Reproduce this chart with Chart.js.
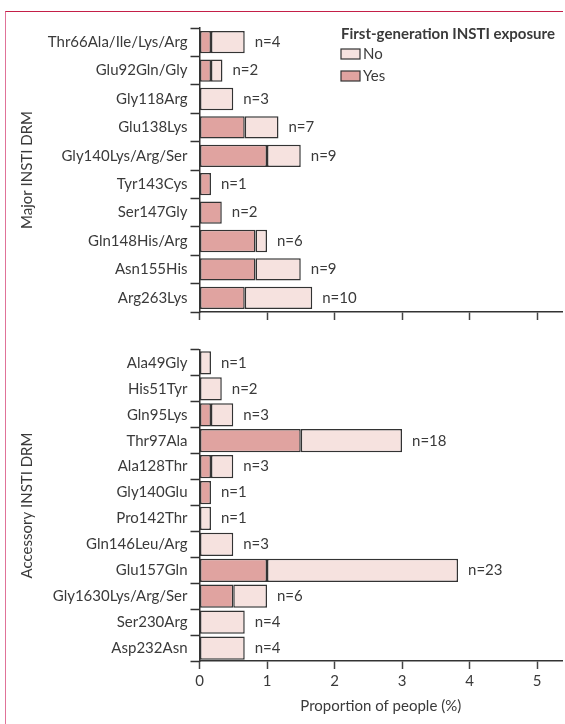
<!DOCTYPE html>
<html>
<head>
<meta charset="utf-8">
<script src="https://cdn.jsdelivr.net/npm/chart.js@4.4.1/dist/chart.umd.min.js"></script>
<style>
  html, body { margin: 0; padding: 0; background: #fff; }
  #frame {
    position: absolute; left: 5px; top: 11px; width: 558px; height: 713px;
    border-top: 1.5px solid #c41f48; border-left: 1.5px solid #e07398;
    box-sizing: border-box;
  }
  canvas { position: absolute; left: 0; }
  #major { top: 0; }
  #accessory { top: 330px; }
</style>
</head>
<body>
<div id="frame"></div>
<canvas id="major" width="565" height="330"></canvas>
<canvas id="accessory" width="565" height="394"></canvas>
<script>
// Major INSTI DRM (% of people), split by first-generation INSTI exposure
const majorLabels = ['Thr66Ala/Ile/Lys/Arg', 'Glu92Gln/Gly', 'Gly118Arg', 'Glu138Lys', 'Gly140Lys/Arg/Ser',
  'Tyr143Cys', 'Ser147Gly', 'Gln148His/Arg', 'Asn155His', 'Arg263Lys'];
const majorYes = [0.17, 0.17, 0, 0.67, 1.0, 0.17, 0.33, 0.83, 0.83, 0.67];
const majorNo = [0.5, 0.17, 0.5, 0.5, 0.5, 0, 0, 0.17, 0.67, 1.0];
const majorCounts = [4, 2, 3, 7, 9, 1, 2, 6, 9, 10];

// Accessory INSTI DRM
const accessoryLabels = ['Ala49Gly', 'His51Tyr', 'Gln95Lys', 'Thr97Ala', 'Ala128Thr', 'Gly140Glu', 'Pro142Thr',
  'Gln146Leu/Arg', 'Glu157Gln', 'Gly1630Lys/Arg/Ser', 'Ser230Arg', 'Asp232Asn'];
const accessoryYes = [0, 0, 0.17, 1.5, 0.17, 0.17, 0, 0, 1.0, 0.5, 0, 0];
const accessoryNo = [0.17, 0.33, 0.33, 1.5, 0.33, 0, 0.17, 0.5, 2.83, 0.5, 0.67, 0.67];
const accessoryCounts = [1, 2, 3, 18, 3, 1, 1, 3, 23, 6, 4, 4];

const xTicks = [0, 1, 2, 3, 4, 5];

const FONT = 'Lato';
const TEXT = '#3a3a3a';
const LINE = '#333333';
const YES_COLOR = '#e0a3a0';
const NO_COLOR = '#f6e2df';

Chart.defaults.color = TEXT;
Chart.defaults.font.family = FONT;
Chart.defaults.font.size = 15;

// "n=.." written just past the end of each stacked bar
const countLabels = {
  id: 'countLabels',
  afterDatasetsDraw(chart, args, opts) {
    const meta = chart.getDatasetMeta(chart.data.datasets.length - 1);
    const ctx = chart.ctx;
    ctx.save();
    ctx.font = `15px ${FONT}`;
    ctx.fillStyle = TEXT;
    ctx.textAlign = 'left';
    ctx.textBaseline = 'middle';
    meta.data.forEach((bar, i) => {
      ctx.fillText('n=' + opts.counts[i], bar.x + 10, bar.y);
    });
    ctx.restore();
  }
};

// legend block in the top right of the upper panel
const exposureLegend = {
  id: 'exposureLegend',
  afterDraw(chart, args, opts) {
    if (!opts.show) return;
    const ctx = chart.ctx;
    ctx.save();
    ctx.textBaseline = 'middle';
    ctx.textAlign = 'left';
    ctx.fillStyle = TEXT;
    ctx.font = `bold 15px ${FONT}`;
    ctx.fillText(opts.title, opts.x, opts.y);
    ctx.font = `15px ${FONT}`;
    const items = chart.data.datasets.slice().reverse();
    items.forEach((ds, i) => {
      const y = opts.y + 20 + i * 22;
      ctx.fillStyle = ds.backgroundColor;
      ctx.fillRect(opts.x, y - 5, 19, 10);
      ctx.strokeStyle = ds.borderColor;
      ctx.lineWidth = 1.2;
      ctx.strokeRect(opts.x, y - 5, 19, 10);
      ctx.fillStyle = TEXT;
      ctx.fillText(ds.label, opts.x + 22, y);
    });
    ctx.restore();
  }
};

function drawPanel(id, labels, yes, no, counts, cfg) {
  const ctx = document.getElementById(id).getContext('2d');
  return new Chart(ctx, {
    type: 'bar',
    data: {
      labels: labels,
      datasets: [
        { label: 'Yes', data: yes, backgroundColor: YES_COLOR, borderColor: LINE, borderWidth: 1.5,
          borderSkipped: false, barPercentage: cfg.barPct, categoryPercentage: 1 },
        { label: 'No', data: no, backgroundColor: NO_COLOR, borderColor: LINE, borderWidth: 1.5,
          borderSkipped: false, barPercentage: cfg.barPct, categoryPercentage: 1 }
      ]
    },
    plugins: [countLabels, exposureLegend],
    options: {
      indexAxis: 'y',
      responsive: false,
      animation: false,
      layout: { padding: { left: 14, right: 3, top: cfg.top, bottom: cfg.bottom } },
      scales: {
        x: {
          type: 'linear',
          stacked: true,
          min: 0,
          max: 5.37,
          afterBuildTicks: (scale) => { scale.ticks = xTicks.map(v => ({ value: v })); },
          afterFit: (scale) => { scale.height = cfg.xHeight; },
          grid: { drawOnChartArea: false, drawTicks: true, tickLength: 8, tickWidth: 1.5, tickColor: '#444' },
          border: { display: true, color: LINE, width: 1.5 },
          ticks: { display: cfg.xLabels, padding: 3, maxRotation: 0, color: TEXT },
          title: { display: cfg.xLabels, text: 'Proportion of people (%)', color: TEXT }
        },
        y: {
          type: 'category',
          stacked: true,
          afterFit: (scale) => { scale.width = 185.5; },
          grid: { drawOnChartArea: false, offset: true, tickLength: 9, tickWidth: 1.5, tickColor: LINE },
          border: { display: true, color: LINE, width: 1.5 },
          ticks: { autoSkip: false, padding: 3, color: TEXT },
          title: { display: true, text: cfg.yTitle, color: TEXT }
        }
      },
      plugins: {
        legend: { display: false },
        tooltip: { enabled: false },
        countLabels: { counts: counts },
        exposureLegend: { show: cfg.legend, title: 'First-generation INSTI exposure', x: 341, y: 34 }
      }
    }
  });
}

drawPanel('major', majorLabels, majorYes, majorNo, majorCounts,
  { barPct: 0.785, top: 28, bottom: 0, xHeight: 18, xLabels: false, yTitle: 'Major INSTI DRM', legend: true });
drawPanel('accessory', accessoryLabels, accessoryYes, accessoryNo, accessoryCounts,
  { barPct: 0.9, top: 20, bottom: 5, xHeight: 58, xLabels: true, yTitle: 'Accessory INSTI DRM', legend: false });
</script>
</body>
</html>
